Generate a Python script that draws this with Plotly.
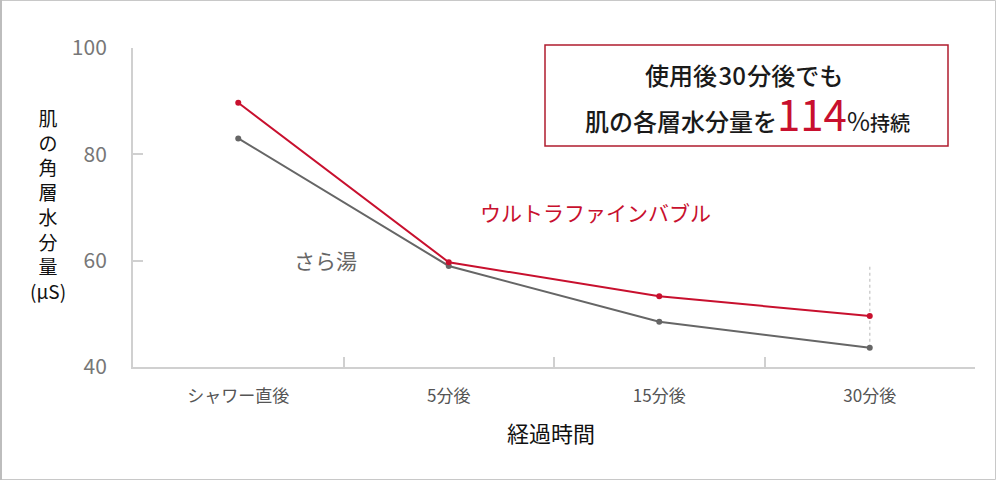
import plotly.graph_objects as go

categories = ["シャワー直後", "5分後", "15分後", "30分後"]
ufb_values = [89.7, 59.7, 53.3, 49.6]
plain_values = [83.0, 59.0, 48.5, 43.6]
y_ticks = [40, 60, 80, 100]
y_title_chars = ["肌", "の", "角", "層", "水", "分", "量", "(μS)"]

RED = "#c8102e"
GRAY = "#666666"
AXIS = "#d0d0d0"
FONT = "Noto Sans CJK JP"

W, H = 996, 480
ML, MR, MT, MB = 133, 21, 48, 113
PW, PH = W - ML - MR, H - MT - MB

def px(x):
    return (x - ML) / PW

def py(y):
    return (H - MB - y) / PH

fig = go.Figure()
fig.add_trace(go.Scatter(x=categories, y=plain_values, mode="lines+markers",
                         line=dict(color=GRAY, width=2), marker=dict(size=6, color=GRAY),
                         name="さら湯", showlegend=False, cliponaxis=False))
fig.add_trace(go.Scatter(x=categories, y=ufb_values, mode="lines+markers",
                         line=dict(color=RED, width=2), marker=dict(size=6, color=RED),
                         name="ウルトラファインバブル", showlegend=False, cliponaxis=False))

# dotted vertical guide at last category
fig.add_shape(type="line", xref="x", yref="y", x0=categories[-1], x1=categories[-1],
              y0=plain_values[-1], y1=59.3, line=dict(color="#cfcfcf", width=1.5, dash="dot"),
              layer="below")

# outer frame
fig.add_shape(type="rect", xref="paper", yref="paper",
              x0=px(0.5), x1=px(W - 0.5), y0=py(H - 0.5), y1=py(0.5),
              line=dict(color="#c8c8c8", width=1))
fig.add_shape(type="line", xref="paper", yref="paper",
              x0=px(1), x1=px(1), y0=py(H), y1=py(0),
              line=dict(color="#bdbdbd", width=2))

# message box
fig.add_shape(type="rect", xref="paper", yref="paper",
              x0=px(545), x1=px(948), y0=py(146), y1=py(45),
              line=dict(color="#b01c2e", width=1.5), fillcolor="white")

HS = "\u200a"
line1 = "使用後" + HS + "30" + HS + "分後でも"
line2 = ("肌の各層水分量を"
         "<span style='font-size:42px;font-weight:normal;color:%s'>114</span>"
         "<span style='font-size:25px;font-weight:normal'>%%</span>"
         "<span style='font-size:20px'>持続</span>" % RED)

annotations = [
    dict(x=px(744), y=py(74), text=line1, font=dict(size=24, color="#1a1a1a", weight=500)),
    dict(x=px(747), y=py(113), text=line2, font=dict(size=24, color="#1a1a1a", weight=500)),
    dict(x=px(595), y=py(212), text="ウルトラファインバブル", font=dict(size=21, color=RED)),
    dict(x=px(325), y=py(260), text="さら湯", font=dict(size=21, color=GRAY)),
    dict(x=px(551), y=py(432), text="経過時間", font=dict(size=22, color="#111")),
    dict(x=px(48), y=py(204), text="<br>".join(y_title_chars), font=dict(size=19, color="#111")),
]
for a in annotations:
    a.update(xref="paper", yref="paper", showarrow=False, xanchor="center", yanchor="middle",
             borderpad=0)
fig.update_layout(annotations=annotations)

fig.update_layout(
    width=W, height=H,
    margin=dict(l=ML, r=MR, t=MT, b=MB),
    paper_bgcolor="white", plot_bgcolor="white",
    font=dict(family=FONT),
    xaxis=dict(type="category", range=[-0.5, 3.5], showgrid=False, zeroline=False,
               showline=True, linecolor=AXIS, linewidth=2,
               ticks="inside", tickson="boundaries", ticklen=10, tickcolor=AXIS, tickwidth=1.5,
               tickfont=dict(size=17, color="#555"), ticklabelstandoff=13),
    yaxis=dict(range=[40, 100], tickvals=y_ticks, showgrid=False, zeroline=False,
               showline=True, linecolor=AXIS, linewidth=2,
               ticks="inside", ticklen=10, tickcolor=AXIS, tickwidth=1.5,
               tickfont=dict(size=21, color="#777"), ticklabelstandoff=20),
)

fig.write_html("out.html", config={"displayModeBar": False},
               post_script="document.body.style.margin='0';")
